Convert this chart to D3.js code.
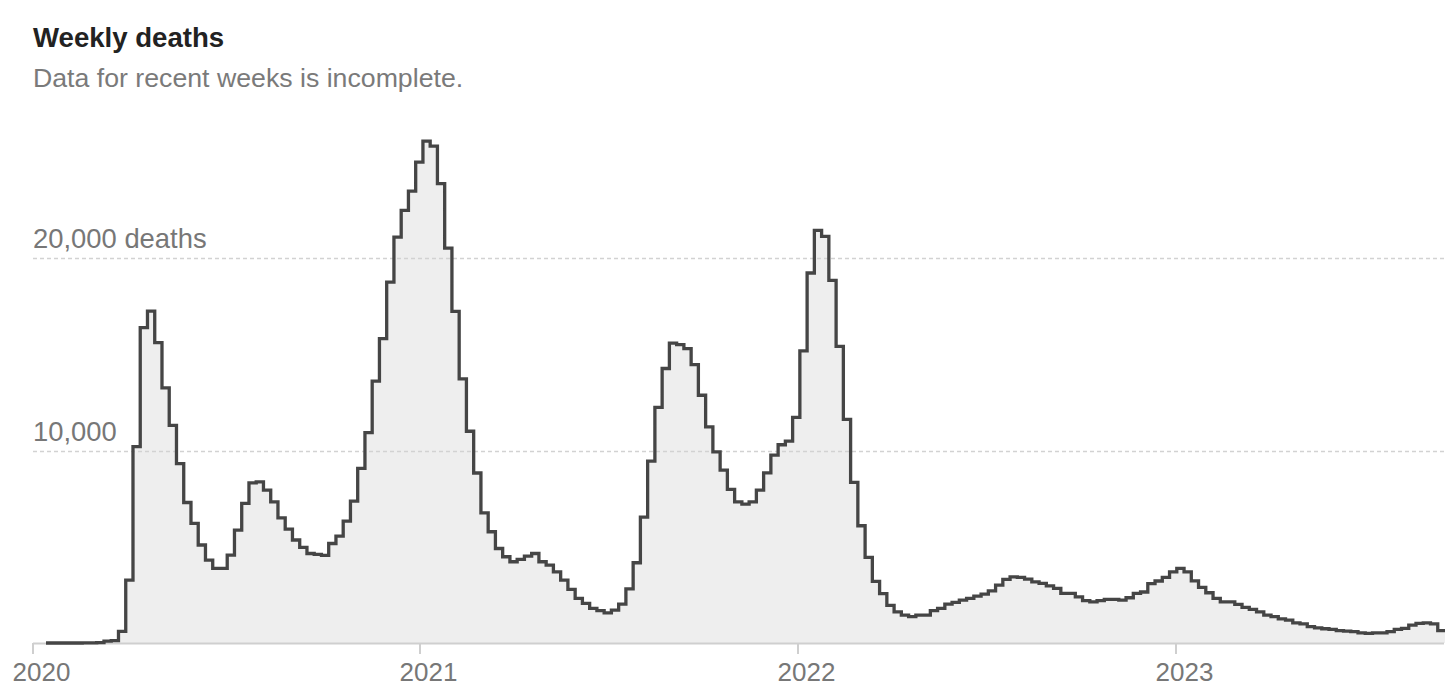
<!DOCTYPE html>
<html>
<head>
<meta charset="utf-8">
<script src="https://cdn.jsdelivr.net/npm/d3@7"></script>
<style>
  html, body { margin: 0; padding: 0; background: #fff; }
  svg { display: block; }
  text { font-family: "Liberation Sans", Arial, sans-serif; }
</style>
</head>
<body>
<svg id="chart" width="1456" height="693"></svg>
<script>
// ---- Data ----
const title = "Weekly deaths";
const subtitle = "Data for recent weeks is incomplete.";
const firstWeekStart = "2020-01-06";   // first weekly bucket
const weeklyDeaths = [
  0, 0, 0, 0, 0, 5, 10, 20, 100, 120,
  600, 3270, 10200, 16380, 17240, 15600, 13250, 11310, 9320, 7300,
  6210, 5090, 4310, 3880, 3880, 4570, 5860, 7250, 8320, 8370,
  7940, 7330, 6500, 5920, 5350, 4970, 4650, 4600, 4550, 5170,
  5550, 6330, 7370, 9070, 10930, 13600, 15810, 18750, 21080, 22470,
  23470, 24980, 26070, 25810, 23860, 20510, 17230, 13720, 11000, 8830,
  6760, 5780, 4910, 4480, 4220, 4340, 4510, 4650, 4220, 4050,
  3700, 3270, 2790, 2320, 2060, 1800, 1680, 1570, 1710, 2020,
  2810, 4170, 6540, 9450, 12240, 14260, 15580, 15500, 15290, 14460,
  12870, 11230, 9930, 8980, 7980, 7330, 7210, 7330, 7940, 8840,
  9760, 10300, 10490, 11720, 15180, 19220, 21430, 21120, 18840, 15410,
  11620, 8340, 6090, 4450, 3200, 2560, 1950, 1620, 1450, 1370,
  1450, 1450, 1680, 1800, 2020, 2110, 2230, 2320, 2440, 2540,
  2710, 3010, 3310, 3440, 3410, 3320, 3180, 3100, 2970, 2840,
  2580, 2580, 2400, 2200, 2140, 2200, 2270, 2270, 2230, 2350,
  2580, 2650, 3080, 3220, 3410, 3700, 3880, 3700, 3230, 2890,
  2610, 2320, 2140, 2140, 2010, 1850, 1750, 1620, 1450, 1370,
  1250, 1190, 1050, 990, 850, 790, 740, 710, 640, 620,
  590, 530, 500, 530, 530, 590, 710, 760, 930, 1020,
  1050, 990, 640
];
const yearTicks = ["2020", "2021", "2022", "2023"];
const yTickValues = [10000, 20000];
const yTickLabels = ["10,000", "20,000 deaths"];

// ---- Layout ----
const svg = d3.select("#chart");
const left = 33, right = 1444;
const plotLeft = 46, plotRight = 1444;
const baseY = 643, topY20k = 258;

const parse = d3.utcParse("%Y-%m-%d");
const start = parse(firstWeekStart);
const weekDates = weeklyDeaths.map((_, i) => d3.utcDay.offset(start, 7 * i));
const endDate = d3.utcDay.offset(start, 7 * weeklyDeaths.length);

const x = d3.scaleUtc().domain([start, endDate]).range([plotLeft, plotRight + 1]);
const y = d3.scaleLinear().domain([0, 20000]).range([baseY, topY20k]);

const points = weeklyDeaths.map((v, i) => ({ date: weekDates[i], value: v }));
points.push({ date: endDate, value: weeklyDeaths[weeklyDeaths.length - 1] });

// Title & subtitle
svg.append("text").attr("x", 33).attr("y", 46.5)
  .attr("font-size", 27.6).attr("font-weight", 700).attr("fill", "#222")
  .text(title);
svg.append("text").attr("x", 33).attr("y", 87)
  .attr("font-size", 26.7).attr("fill", "#7a7a7a")
  .text(subtitle);

// Area
const area = d3.area()
  .x(d => x(d.date)).y0(baseY).y1(d => y(d.value))
  .curve(d3.curveStepAfter);
svg.append("path").datum(points).attr("d", area).attr("fill", "#eeeeee");

// Gridlines
const grid = svg.append("g");
yTickValues.forEach((v, i) => {
  grid.append("line")
    .attr("x1", left).attr("x2", right)
    .attr("y1", Math.round(y(v)) + 0.5).attr("y2", Math.round(y(v)) + 0.5)
    .attr("stroke", "#d2d2d2").attr("stroke-width", 1.3)
    .attr("stroke-dasharray", "4,3");
  svg.append("text")
    .attr("x", left).attr("y", y(v) - 10)
    .attr("font-size", 27.4).attr("fill", "#777")
    .text(yTickLabels[i]);
});

// X axis
const yearDates = yearTicks.map(t => parse(t + "-01-01"));
const axisG = svg.append("g").attr("transform", `translate(0,${baseY})`);
const xAxis = d3.axisBottom(x)
  .tickValues(yearDates)
  .tickSize(11)
  .tickFormat((d, i) => yearTicks[i]);
axisG.call(xAxis);
axisG.select(".domain").remove();
axisG.insert("line", ":first-child")
  .attr("x1", left).attr("x2", right).attr("y1", 0.5).attr("y2", 0.5)
  .attr("stroke", "#cfcfcf").attr("stroke-width", 2);
// first tick sits at the axis start
axisG.selectAll(".tick").attr("transform", (d, i) =>
  `translate(${i === 0 ? left : Math.round(x(d))},0)`);
axisG.selectAll(".tick line").attr("stroke", "#cfcfcf").attr("stroke-width", 2);
axisG.selectAll(".tick text")
  .attr("font-family", "Liberation Sans, Arial, sans-serif")
  .attr("font-size", 26).attr("fill", "#777")
  .attr("x", 8.5).attr("y", 15).attr("dy", "0.9em");

// Line
const line = d3.line()
  .x(d => x(d.date)).y(d => y(d.value))
  .curve(d3.curveStepAfter);
svg.append("path").datum(points).attr("d", line)
  .attr("fill", "none").attr("stroke", "#454545")
  .attr("stroke-width", 3.3).attr("stroke-linejoin", "miter");
</script>
</body>
</html>
